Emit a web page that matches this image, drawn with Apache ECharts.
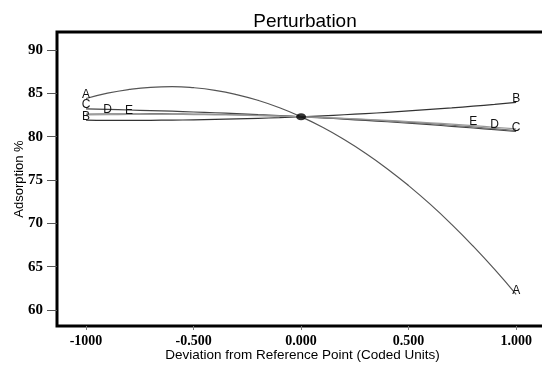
<!DOCTYPE html>
<html><head><meta charset="utf-8">
<script src="https://cdn.jsdelivr.net/npm/echarts@6/dist/echarts.min.js"></script>
<style>html,body{margin:0;padding:0;background:#fff}#c{width:542px;height:365px}</style>
</head><body><div id="c"></div>
<script>
const xs = [-1,-0.9,-0.8,-0.7,-0.6,-0.5,-0.4,-0.3,-0.2,-0.1,0,0.1,0.2,0.3,0.4,0.5,0.6,0.7,0.8,0.9,1];
const seriesA = [84.4,85.02,85.45,85.70,85.77,85.65,85.35,84.86,84.19,83.34,82.3,81.08,79.67,78.08,76.31,74.35,72.21,69.88,67.37,64.68,61.8];
const seriesB = [81.9,81.88,81.88,81.89,81.91,81.94,81.99,82.05,82.12,82.2,82.3,82.41,82.53,82.66,82.81,82.97,83.14,83.32,83.52,83.73,83.95];
const seriesC = [83.2,83.15,83.08,83.01,82.94,82.85,82.76,82.65,82.54,82.43,82.3,82.17,82.02,81.87,81.72,81.55,81.38,81.19,81.0,80.81,80.6];
const seriesD = [82.6,82.63,82.64,82.65,82.64,82.61,82.58,82.53,82.46,82.39,82.3,82.2,82.08,81.96,81.82,81.66,81.5,81.32,81.12,80.92,80.7];
const seriesE = [82.5,82.53,82.56,82.57,82.56,82.55,82.52,82.49,82.44,82.37,82.3,82.21,82.12,82.01,81.88,81.75,81.6,81.45,81.28,81.09,80.9];
const refPoint = [0, 82.3];
const xTicks = [-1,-0.5,0,0.5,1];
const xTickLabels = ['-1000','-0.500','0.000','0.500','1.000'];
const yTicks = [60,65,70,75,80,85,90];
// label positions (x values) for each factor letter
const labelsAt = {A:[-1,1], B:[-1,1], C:[-1,1], D:[-0.9,0.9], E:[-0.8,0.8]};

function build(name, vals, color) {
  const pos = labelsAt[name];
  const data = xs.map((x,i) => {
    const item = {value:[x, vals[i]]};
    if (pos.indexOf(x) >= 0) {
      item.label = {show:true, formatter:name, position:'top', distance:-2,
        color:'#111', fontSize:12, fontFamily:'Liberation Sans, Arial', fontWeight:'normal'};
    }
    return item;
  });
  return {type:'line', name, data, smooth:true, symbol:'circle', symbolSize:0, showSymbol:true,
    lineStyle:{color, width:1.2}, itemStyle:{color}, label:{show:false}, z:3, silent:true};
}

const chart = echarts.init(document.getElementById('c'), null, {renderer:'canvas'});
chart.setOption({
  animation:false,
  backgroundColor:'#fff',
  title:{text:'Perturbation', left:300, top:7, textAlign:'center',
    textStyle:{fontFamily:'Liberation Sans, Arial', fontSize:19, fontWeight:'normal', color:'#000'}},
  grid:{left:57, top:32, width:500, bottom:39, show:true, borderColor:'#000', borderWidth:3,
    backgroundColor:'#fff', containLabel:false, outerBoundsMode:'none'},
  xAxis:{type:'value', min:-1.135, max:1.19,
    axisLine:{show:false, onZero:false}, splitLine:{show:false},
    axisTick:{show:true, customValues:xTicks, length:4, lineStyle:{color:'#777', width:1}},
    axisLabel:{customValues:xTicks, formatter:v => xTickLabels[xTicks.indexOf(Math.round(v*1000)/1000)],
      margin:8, color:'#000', fontFamily:'Liberation Serif, Times New Roman', fontWeight:'bold', fontSize:14},
    name:'Deviation from Reference Point (Coded Units)', nameLocation:'middle', nameGap:22, nameMoveOverlap:false,
    nameTextStyle:{fontFamily:'Liberation Sans, Arial', fontSize:13.5, color:'#000', padding:[0,0,0,-9]}},
  yAxis:{type:'value', min:58.15, max:92.08,
    axisLine:{show:false, onZero:false}, splitLine:{show:false},
    axisTick:{show:true, customValues:yTicks, length:10, lineStyle:{color:'#555', width:1}},
    axisLabel:{customValues:yTicks, margin:14, color:'#000', fontFamily:'Liberation Serif, Times New Roman', fontWeight:'bold', fontSize:15},
    name:'Adsorption %', nameLocation:'middle', nameGap:31, nameRotate:90, nameMoveOverlap:false,
    nameTextStyle:{fontFamily:'Liberation Sans, Arial', fontSize:13, color:'#000'}},
  series:[
    build('A', seriesA, '#555'),
    build('B', seriesB, '#333'),
    build('C', seriesC, '#444'),
    build('D', seriesD, '#777'),
    build('E', seriesE, '#999'),
    {type:'scatter', data:[refPoint], symbol:'circle', symbolSize:[10,7], itemStyle:{color:'#000'}, z:5, silent:true}
  ]
});
</script></body></html>
